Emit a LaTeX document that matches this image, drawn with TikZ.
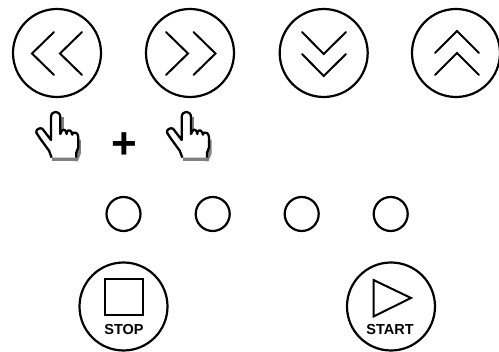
\documentclass[tikz,border=0pt]{standalone}
\usepackage{fontspec}
\setmainfont{Liberation Sans}
\tikzset{
  bigbtn/.style={line width=2.2pt},
  chev/.style={line width=2pt,line join=miter,line cap=round},
  lamp/.style={line width=2.2pt},
  glyphshape/.style={line width=2pt,line join=miter},
  lbl/.style={inner sep=0pt,font=\fontsize{14.5}{15}\selectfont\bfseries},
  plussign/.style={inner sep=0pt,font=\fontsize{44}{44}\selectfont\bfseries},
  hand/.pic={
    \begin{scope}[x=0.3333pt,y=-0.3333pt]
      \fill[black!50] (157,200) rectangle (233,214);
      \fill[black!50] (225,143) -- (243,150) -- (243,190) -- (233,214) -- (225,214) -- cycle;
      \fill[black!50] (181,82) rectangle (191,120);
      \draw[line width=2.3pt,fill=white,line join=round]
        (155,203) -- (147,182) -- (120,145) -- (109,128)
        .. controls (107,119) and (118,112) .. (127,116)
        -- (153,150) -- (153,82)
        .. controls (153,60) and (181,60) .. (181,82)
        -- (181,132) -- (186,122) .. controls (192,116) and (198,120) .. (200,132)
        -- (201,125) .. controls (206,118) and (214,120) .. (217,134)
        -- (219,128) .. controls (226,124) and (234,130) .. (235,142)
        -- (235,172) -- (229,188) -- (229,203);
    \end{scope}
  }
}
\begin{document}
\begin{tikzpicture}[x=1pt,y=-1pt]
\useasboundingbox (0,0) rectangle (499,352);
% top buttons
\draw[bigbtn] (57,53) circle[radius=44];
\draw[bigbtn] (190,53) circle[radius=44];
\draw[bigbtn] (323.7,53) circle[radius=44];
\draw[bigbtn] (456,53) circle[radius=44];
\draw[chev] (54,32) -- (32,53.5) -- (54,75);
\draw[chev] (82,32) -- (60,53.5) -- (82,75);
\draw[chev] (166,32) -- (188,53.5) -- (166,75);
\draw[chev] (193.5,32) -- (215.5,53.5) -- (193.5,75);
\draw[chev] (302,32) -- (323.7,54) -- (346,32);
\draw[chev] (302,54) -- (323.7,76) -- (346,54);
\draw[chev] (435,53) -- (457,31) -- (479,53);
\draw[chev] (435,75) -- (457,53) -- (479,75);
% hands and plus
\pic at (0,90) {hand};
\pic at (130.7,90) {hand};
\node[plussign] (plus) at (124,146) {+};
% lamps
\draw[lamp] (123.5,214) circle[radius=17];
\draw[lamp] (212.7,214) circle[radius=17];
\draw[lamp] (301.7,214) circle[radius=17];
\draw[lamp] (390.7,214) circle[radius=17];
% stop / start
\draw[bigbtn] (123.5,306.5) circle[radius=44];
\draw[bigbtn] (391,306.5) circle[radius=44];
\draw[glyphshape] (105,279) rectangle (143,315);
\draw[glyphshape] (373.5,280) -- (411,298) -- (373.5,316.5) -- cycle;
\node[lbl] (stop) at (124,330) {STOP};
\node[lbl] (start) at (390,330) {START};
\end{tikzpicture}
\end{document}
